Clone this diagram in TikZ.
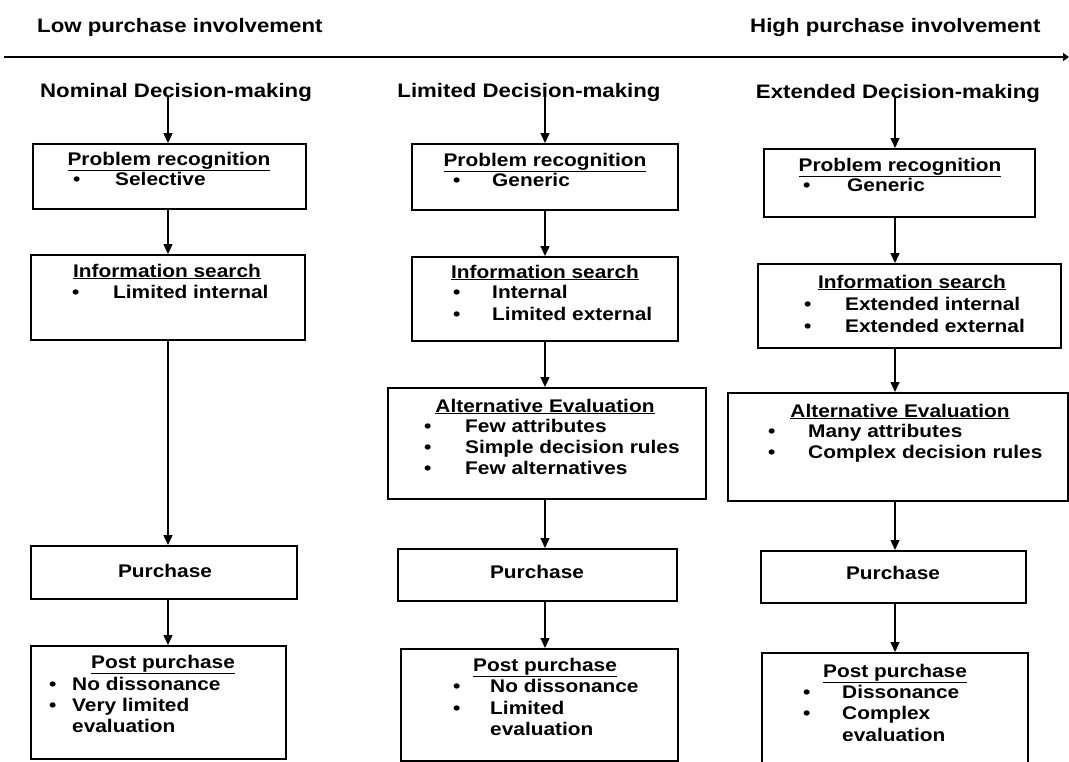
\documentclass[tikz,border=0pt]{standalone}
\usepackage{fontspec}
\setmainfont{Liberation Sans}[FakeStretch=1.14]
\usetikzlibrary{arrows.meta}
\newcommand\bxfont{\fontsize{18.3}{21}\selectfont\bfseries}
\newcommand\ttlfont{\fontsize{19.5}{22}\selectfont\bfseries}
\begin{document}
\begin{tikzpicture}[x=1pt,y=-1pt,
  box/.style={draw=black, line width=1.6pt, inner sep=0pt, anchor=north west},
  hd/.style={inner sep=0pt, anchor=base, font=\bxfont},
  it/.style={inner sep=0pt, anchor=base west, font=\bxfont},
  ttl/.style={inner sep=0pt, anchor=base, font=\ttlfont},
  hdr/.style={inner sep=0pt, anchor=base west, font=\ttlfont},
  arr/.style={line width=1.4pt, -{Triangle[length=10pt,width=9pt]}}]
\useasboundingbox (0,0) rectangle (1069,761);
% header
\node[hdr] (low) at (37,32) {Low purchase involvement};
\node[hdr] (high) at (750,32) {High purchase involvement};
\coordinate (lineL) at (4,57);
\coordinate (lineR) at (1069,57);
\draw[line width=2pt, -{Triangle[length=6pt,width=8pt]}] (lineL) -- (lineR);
% column axes
\coordinate (c1) at (168,0);
\coordinate (c2) at (545,0);
\coordinate (c3) at (895,0);
% titles
\node[ttl] (t1) at (176,97) {Nominal Decision-making};
\node[ttl] (t2) at (529,97) {Limited Decision-making};
\node[ttl] (t3) at (898,98) {Extended Decision-making};

% ---------- column 1
\node[box, minimum width=273pt, minimum height=65pt] (p1) at (32,143) {};
\node[hd] (p1h) at (169,165) {\underline{Problem recognition}};
\node[it] (p1b1) at (73,185) {•};
\node[it] (p1i1) at (115,185) {Selective};

\node[box, minimum width=274pt, minimum height=85pt] (i1) at (30,254) {};
\node[hd] (i1h) at (167,277) {\underline{Information search}};
\node[it] (i1b1) at (72,298) {•};
\node[it] (i1i1) at (113,298) {Limited internal};

\node[box, minimum width=266pt, minimum height=53pt] (u1) at (30,545) {};
\node[hd] (u1h) at (165,577) {Purchase};

\node[box, minimum width=255pt, minimum height=113pt] (o1) at (30,645) {};
\node[hd] (o1h) at (163,668) {\underline{Post purchase}};
\node[it] (o1b1) at (49,690) {•};
\node[it] (o1b2) at (49,711) {•};
\node[it] (o1i1) at (72,690) {No dissonance};
\node[it] (o1i2) at (72,711) {Very limited};
\node[it] (o1i3) at (72,732) {evaluation};

% ---------- column 2
\node[box, minimum width=266pt, minimum height=66pt] (p2) at (411,143) {};
\node[hd] (p2h) at (545,166) {\underline{Problem recognition}};
\node[it] (p2b1) at (453,186) {•};
\node[it] (p2i1) at (492,186) {Generic};

\node[box, minimum width=266pt, minimum height=84pt] (i2) at (411,256) {};
\node[hd] (i2h) at (545,278) {\underline{Information search}};
\node[it] (i2b1) at (453,298) {•};
\node[it] (i2b2) at (453,320) {•};
\node[it] (i2i1) at (492,298) {Internal};
\node[it] (i2i2) at (492,320) {Limited external};

\node[box, minimum width=318pt, minimum height=111pt] (a2) at (387,387) {};
\node[hd] (a2h) at (545,412) {\underline{Alternative Evaluation}};
\node[it] (a2b1) at (424,432) {•};
\node[it] (a2b2) at (424,453) {•};
\node[it] (a2b3) at (424,474) {•};
\node[it] (a2i1) at (465,432) {Few attributes};
\node[it] (a2i2) at (465,453) {Simple decision rules};
\node[it] (a2i3) at (465,474) {Few alternatives};

\node[box, minimum width=279pt, minimum height=52pt] (u2) at (397,548) {};
\node[hd] (u2h) at (537,578) {Purchase};

\node[box, minimum width=277pt, minimum height=112pt] (o2) at (400,648) {};
\node[hd] (o2h) at (545,671) {\underline{Post purchase}};
\node[it] (o2b1) at (453,692) {•};
\node[it] (o2b2) at (453,714) {•};
\node[it] (o2i1) at (490,692) {No dissonance};
\node[it] (o2i2) at (490,714) {Limited};
\node[it] (o2i3) at (490,735) {evaluation};

% ---------- column 3
\node[box, minimum width=271pt, minimum height=68pt] (p3) at (763,148) {};
\node[hd] (p3h) at (900,171) {\underline{Problem recognition}};
\node[it] (p3b1) at (803,191) {•};
\node[it] (p3i1) at (847,191) {Generic};

\node[box, minimum width=303pt, minimum height=84pt] (i3) at (757,263) {};
\node[hd] (i3h) at (912,288) {\underline{Information search}};
\node[it] (i3b1) at (804,310) {•};
\node[it] (i3b2) at (804,332) {•};
\node[it] (i3i1) at (845,310) {Extended internal};
\node[it] (i3i2) at (845,332) {Extended external};

\node[box, minimum width=340pt, minimum height=108pt] (a3) at (727,392) {};
\node[hd] (a3h) at (900,417) {\underline{Alternative Evaluation}};
\node[it] (a3b1) at (768,437) {•};
\node[it] (a3b2) at (768,458) {•};
\node[it] (a3i1) at (808,437) {Many attributes};
\node[it] (a3i2) at (808,458) {Complex decision rules};

\node[box, minimum width=265pt, minimum height=52pt] (u3) at (760,550) {};
\node[hd] (u3h) at (893,579) {Purchase};

\node[box, minimum width=266pt, minimum height=110pt] (o3) at (761,652) {};
\node[hd] (o3h) at (895,677) {\underline{Post purchase}};
\node[it] (o3b1) at (803,698) {•};
\node[it] (o3b2) at (803,719) {•};
\node[it] (o3i1) at (842,698) {Dissonance};
\node[it] (o3i2) at (842,719) {Complex};
\node[it] (o3i3) at (842,741) {evaluation};

% ---------- arrows
\draw[arr] (t1.base -| c1) -- (p1.north -| c1);
\draw[arr] (p1.south -| c1) -- (i1.north -| c1);
\draw[arr] (i1.south -| c1) -- (u1.north -| c1);
\draw[arr] (u1.south -| c1) -- (o1.north -| c1);

\draw[arr] (t2.base -| c2) -- (p2.north -| c2);
\draw[arr] (p2.south -| c2) -- (i2.north -| c2);
\draw[arr] (i2.south -| c2) -- (a2.north -| c2);
\draw[arr] (a2.south -| c2) -- (u2.north -| c2);
\draw[arr] (u2.south -| c2) -- (o2.north -| c2);

\draw[arr] (t3.base -| c3) -- (p3.north -| c3);
\draw[arr] (p3.south -| c3) -- (i3.north -| c3);
\draw[arr] (i3.south -| c3) -- (a3.north -| c3);
\draw[arr] (a3.south -| c3) -- (u3.north -| c3);
\draw[arr] (u3.south -| c3) -- (o3.north -| c3);
\end{tikzpicture}
\end{document}
